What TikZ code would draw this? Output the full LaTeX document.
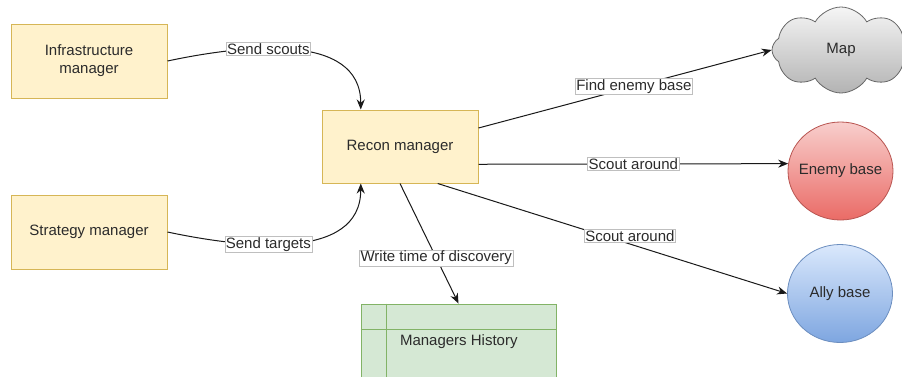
\documentclass[tikz,border=0pt]{standalone}
\usepackage{fontspec}
\setmainfont{Liberation Sans}
\usetikzlibrary{shapes.geometric, shapes.symbols, arrows.meta, calc}

\definecolor{mgrfill}{HTML}{FFF2CC}
\definecolor{mgrline}{HTML}{D6B656}
\definecolor{histfill}{HTML}{D5E8D4}
\definecolor{histline}{HTML}{82B366}
\definecolor{enemytop}{HTML}{F8CECC}
\definecolor{enemybot}{HTML}{EA6B66}
\definecolor{enemyline}{HTML}{B85450}
\definecolor{allytop}{HTML}{DAE8FC}
\definecolor{allybot}{HTML}{7EA6E0}
\definecolor{allyline}{HTML}{6C8EBF}
\definecolor{maptop}{HTML}{F5F5F5}
\definecolor{mapbot}{HTML}{B3B3B3}
\definecolor{mapline}{HTML}{666666}
\definecolor{txt}{HTML}{2B2B2B}

\tikzset{
    every node/.style={font=\fontsize{15}{18}\selectfont, text=txt},
    manager/.style={draw=mgrline, fill=mgrfill, line width=1pt, minimum width=156pt, minimum height=74pt, align=center},
    basenode/.style={ellipse, line width=0.8pt, minimum width=105pt, minimum height=98pt, inner sep=0pt},
    flow/.style={-{Stealth[length=10pt, width=8pt]}, line width=1pt, draw=black!90},
    lbl/.style={fill=white, draw=black!25, line width=0.5pt, inner sep=1pt},
}

\begin{document}
\begin{tikzpicture}[x=1pt, y=1pt]
    \useasboundingbox (0,0) rectangle (902,-376);

    % managers
    \node[manager] (infra) at (89,-61) {Infrastructure\\manager};
    \node[manager] (strategy) at (89,-232) {Strategy manager};
    \node[manager, minimum height=73pt] (recon) at (400,-146.5) {Recon manager};

    % targets
    \node[cloud, cloud puffs=8, cloud puff arc=120, cloud ignores aspect,
          minimum width=138pt, minimum height=86pt, inner sep=0pt, line width=0.8pt,
          draw=mapline, top color=maptop, bottom color=mapbot] (map) at (841,-50) {\makebox[0pt]{Map}};
    \node[basenode, draw=enemyline, top color=enemytop, bottom color=enemybot] (enemy) at (840.5,-171) {\makebox[0pt]{Enemy base}};
    \node[basenode, draw=allyline, top color=allytop, bottom color=allybot] (ally) at (840,-293.5) {\makebox[0pt]{Ally base}};

    % history table
    \node[draw=histline, fill=histfill, line width=1pt, minimum width=195pt, minimum height=86pt] (hist) at (458.5,-347) {};
    \draw[histline, line width=1pt] ($(hist.north west)+(0,-26)$) -- ($(hist.north east)+(0,-26)$);
    \draw[histline, line width=1pt] ($(hist.north west)+(26,0)$) -- ($(hist.south west)+(26,0)$);
    \node[anchor=west] (histname) at ($(hist.north west)+(36,-38)$) {Managers History};

    % connectors
    \draw[flow] (infra.east) to[out=12, in=90]
        node[lbl, pos=0.4] (scoutlbl) {Send scouts}
        ($(recon.north west)!0.25!(recon.north east)$);
    \draw[flow] (strategy.east) to[out=-12, in=-90]
        node[lbl, pos=0.4] (targetlbl) {Send targets}
        ($(recon.south west)!0.25!(recon.south east)$);
    \draw[flow] ($(recon.north east)!0.25!(recon.south east)$) --
        node[lbl, pos=0.53] (findlbl) {Find enemy base} (map.west);
    \draw[flow] ($(recon.north east)!0.74!(recon.south east)$) --
        node[lbl, pos=0.5] (enemylbl) {Scout around} (enemy.172);
    \draw[flow] ($(recon.south west)!0.74!(recon.south east)$) --
        node[lbl, pos=0.55, yshift=8pt] (allylbl) {Scout around} (ally.west);
    \draw[flow] (recon.south) --
        node[lbl, pos=0.62] (writelbl) {Write time of discovery} (hist.north);
\end{tikzpicture}
\end{document}
